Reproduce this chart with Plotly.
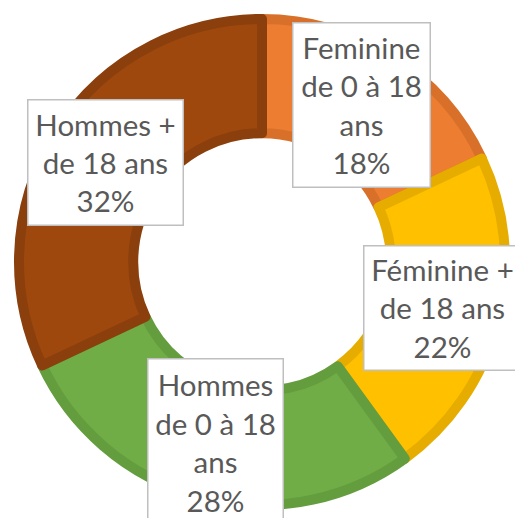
import math
import plotly.graph_objects as go

categories = ["Feminine de 0 à 18 ans", "Féminine + de 18 ans",
              "Hommes de 0 à 18 ans", "Hommes + de 18 ans"]
label_lines = [["Feminine", "de 0 à 18", "ans"],
               ["Féminine +", "de 18 ans"],
               ["Hommes", "de 0 à 18", "ans"],
               ["Hommes +", "de 18 ans"]]
values = [18, 22, 28, 32]

fill_colors = ["#ED7D31", "#FFC000", "#70AD47", "#9E480E"]
line_colors = ["#D8702A", "#E6AD00", "#649D3E", "#8B3F0C"]
box_sizes = [(136, 163), (156, 123), (134, 166), (154, 124)]

W, H = 515, 518
cx, cy = 262, 262          # pixel centre (from top)
R = 243                    # pie radius in px
hole = 0.53

fig = go.Figure(go.Pie(
    labels=categories, values=values, hole=hole, sort=False,
    direction="clockwise", rotation=0,
    marker=dict(colors=fill_colors, line=dict(color=line_colors, width=10)),
    textinfo="none", hoverinfo="label+percent", showlegend=False,
    domain=dict(x=[(cx - R) / W, (cx + R) / W],
                y=[(H - cy - R) / H, (H - cy + R) / H]),
))

total = sum(values)
mid_r = R * (1 + hole) / 2
cum = 0
annotations = []
for lines, v, (bw, bh) in zip(label_lines, values, box_sizes):
    ang = 2 * math.pi * (cum + v / 2) / total
    cum += v
    px = cx + mid_r * math.sin(ang)
    py = cy - mid_r * math.cos(ang)
    pct = f"{round(100 * v / total)}%"
    annotations.append(dict(
        x=px / W, y=(H - py) / H, xref="paper", yref="paper",
        text="<br>".join(lines + [pct]), showarrow=False,
        xanchor="center", yanchor="middle",
        font=dict(family="Lato", size=29.5, color="#595959"),
        bgcolor="#FFFFFF", bordercolor="#BFBFBF", borderwidth=1.5,
        borderpad=0, width=bw, height=bh, align="center",
    ))

fig.update_layout(
    width=W, height=H, margin=dict(l=0, r=0, t=0, b=0),
    paper_bgcolor="#FFFFFF", plot_bgcolor="#FFFFFF",
    annotations=annotations,
)
fig.write_html("out.html", config={"displayModeBar": False},
               post_script="document.body.style.margin='0';document.body.style.overflow='hidden';")
